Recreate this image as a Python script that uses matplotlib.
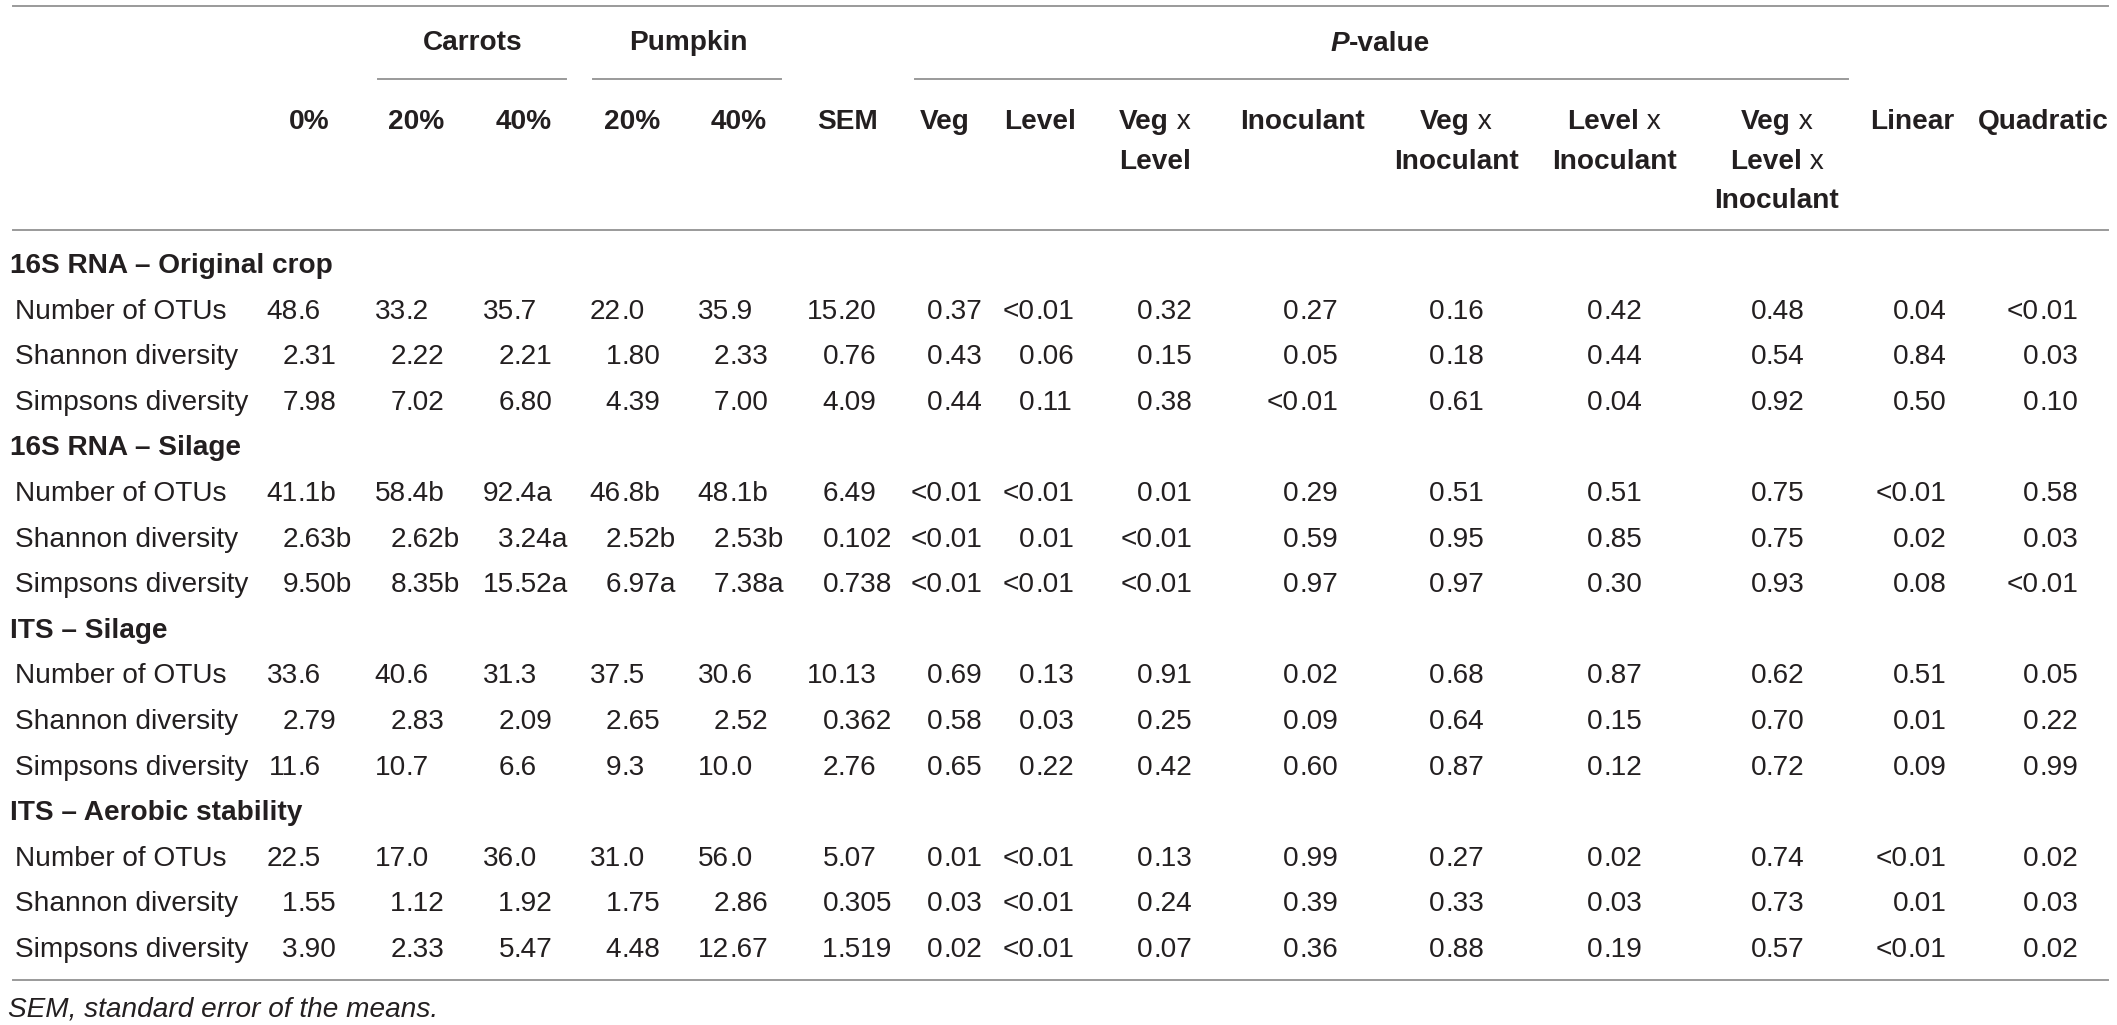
import matplotlib
matplotlib.use("Agg")
import matplotlib.pyplot as plt

plt.rcParams['font.family'] = ['Liberation Sans', 'DejaVu Sans']

# table content
sections = ['16S RNA – Original crop', '16S RNA – Silage', 'ITS – Silage', 'ITS – Aerobic stability']
measures = ['Number of OTUs', 'Shannon diversity', 'Simpsons diversity']

orig_crop = [
    ['48.6', '33.2', '35.7', '22.0', '35.9', '15.20', '0.37', '<0.01', '0.32', '0.27', '0.16', '0.42', '0.48', '0.04', '<0.01'],
    ['2.31', '2.22', '2.21', '1.80', '2.33', '0.76', '0.43', '0.06', '0.15', '0.05', '0.18', '0.44', '0.54', '0.84', '0.03'],
    ['7.98', '7.02', '6.80', '4.39', '7.00', '4.09', '0.44', '0.11', '0.38', '<0.01', '0.61', '0.04', '0.92', '0.50', '0.10'],
]
silage_16s = [
    ['41.1b', '58.4b', '92.4a', '46.8b', '48.1b', '6.49', '<0.01', '<0.01', '0.01', '0.29', '0.51', '0.51', '0.75', '<0.01', '0.58'],
    ['2.63b', '2.62b', '3.24a', '2.52b', '2.53b', '0.102', '<0.01', '0.01', '<0.01', '0.59', '0.95', '0.85', '0.75', '0.02', '0.03'],
    ['9.50b', '8.35b', '15.52a', '6.97a', '7.38a', '0.738', '<0.01', '<0.01', '<0.01', '0.97', '0.97', '0.30', '0.93', '0.08', '<0.01'],
]
its_silage = [
    ['33.6', '40.6', '31.3', '37.5', '30.6', '10.13', '0.69', '0.13', '0.91', '0.02', '0.68', '0.87', '0.62', '0.51', '0.05'],
    ['2.79', '2.83', '2.09', '2.65', '2.52', '0.362', '0.58', '0.03', '0.25', '0.09', '0.64', '0.15', '0.70', '0.01', '0.22'],
    ['11.6', '10.7', '6.6', '9.3', '10.0', '2.76', '0.65', '0.22', '0.42', '0.60', '0.87', '0.12', '0.72', '0.09', '0.99'],
]
its_aerobic = [
    ['22.5', '17.0', '36.0', '31.0', '56.0', '5.07', '0.01', '<0.01', '0.13', '0.99', '0.27', '0.02', '0.74', '<0.01', '0.02'],
    ['1.55', '1.12', '1.92', '1.75', '2.86', '0.305', '0.03', '<0.01', '0.24', '0.39', '0.33', '0.03', '0.73', '0.01', '0.03'],
    ['3.90', '2.33', '5.47', '4.48', '12.67', '1.519', '0.02', '<0.01', '0.07', '0.36', '0.88', '0.19', '0.57', '<0.01', '0.02'],
]
section_values = [orig_crop, silage_16s, its_silage, its_aerobic]

# column headers: list of lines, each line a list of (text, bold)
col_headers = [
    [[('0%', True)]],
    [[('20%', True)]],
    [[('40%', True)]],
    [[('20%', True)]],
    [[('40%', True)]],
    [[('SEM', True)]],
    [[('Veg', True)]],
    [[('Level', True)]],
    [[('Veg', True), (' x', False)], [('Level', True)]],
    [[('Inoculant', True)]],
    [[('Veg', True), (' x', False)], [('Inoculant', True)]],
    [[('Level', True), (' x', False)], [('Inoculant', True)]],
    [[('Veg', True), (' x', False)], [('Level', True), (' x', False)], [('Inoculant', True)]],
    [[('Linear', True)]],
    [[('Quadratic', True)]],
]
footnote = 'SEM, standard error of the means.'

# layout (pixels)
W, H = 2117, 1025
FS = 20.2
TXT = '#231f20'
LINE = '#9a9a9a'
dec_x = [298, 406, 514, 621, 729, 838, 943, 1035, 1153, 1299, 1445, 1603, 1766, 1908, 2039]
head_x = [309, 416, 524, 632, 739, 848, 945, 1040, 1155, 1303, 1456, 1614, 1777, 1912, 2043]
head_y = [119, 159, 198]
row_y0, row_dy = 263, 45.6
cap = 10

fig = plt.figure(figsize=(W / 100, H / 100), dpi=100)
ax = fig.add_axes([0, 0, 1, 1])
ax.set_xlim(0, W)
ax.set_ylim(H, 0)
ax.axis('off')
renderer = fig.canvas.get_renderer()


def put_parts(xc, y, parts, style='normal'):
    # measure pieces, then lay them out centred on xc
    widths = []
    for s, b in parts:
        t = ax.text(0, 0, s, fontsize=FS, fontweight='bold' if b else 'normal', fontstyle=style)
        bb = t.get_window_extent(renderer)
        widths.append(bb.width)
        t.remove()
    x = xc - sum(widths) / 2
    for (s, b), w in zip(parts, widths):
        ax.text(x, y + cap, s, fontsize=FS, fontweight='bold' if b else 'normal',
                fontstyle=style, color=TXT, ha='left', va='baseline')
        x += w


def put_dec(xd, y, s):
    i = s.index('.')
    ax.text(xd, y + cap, s[:i], fontsize=FS, color=TXT, ha='right', va='baseline')
    ax.text(xd, y + cap, s[i:], fontsize=FS, color=TXT, ha='left', va='baseline')


# rules
ax.plot([13, 2108], [6, 6], color=LINE, lw=1.4)
ax.plot([13, 2108], [230, 230], color=LINE, lw=1.4)
ax.plot([13, 2108], [980, 980], color=LINE, lw=1.4)
ax.plot([378, 566], [79, 79], color=LINE, lw=1.4)
ax.plot([593, 781], [79, 79], color=LINE, lw=1.4)
ax.plot([915, 1848], [79, 79], color=LINE, lw=1.4)

# group headers
ax.text(473, 40 + cap, 'Carrots', fontsize=FS, fontweight='bold', color=TXT, ha='center', va='baseline')
ax.text(688, 40 + cap, 'Pumpkin', fontsize=FS, fontweight='bold', color=TXT, ha='center', va='baseline')
ax.text(1349, 41 + cap, 'P', fontsize=FS, fontweight='bold', fontstyle='italic', color=TXT, ha='right', va='baseline')
ax.text(1349, 41 + cap, '-value', fontsize=FS, fontweight='bold', color=TXT, ha='left', va='baseline')

# column headers
for xc, lines in zip(head_x, col_headers):
    for k, parts in enumerate(lines):
        put_parts(xc, head_y[k], parts)

# body
r = 0
for sec, vals in zip(sections, section_values):
    y = row_y0 + row_dy * r
    ax.text(10, y + cap, sec, fontsize=FS, fontweight='bold', color=TXT, ha='left', va='baseline')
    r += 1
    for name, row in zip(measures, vals):
        y = row_y0 + row_dy * r
        ax.text(15, y + cap, name, fontsize=FS, color=TXT, ha='left', va='baseline')
        for xd, s in zip(dec_x, row):
            put_dec(xd, y, s)
        r += 1

ax.text(8, 1007 + cap, footnote, fontsize=FS, fontstyle='italic', color=TXT, ha='left', va='baseline')

fig.savefig('out.png', dpi=100)
